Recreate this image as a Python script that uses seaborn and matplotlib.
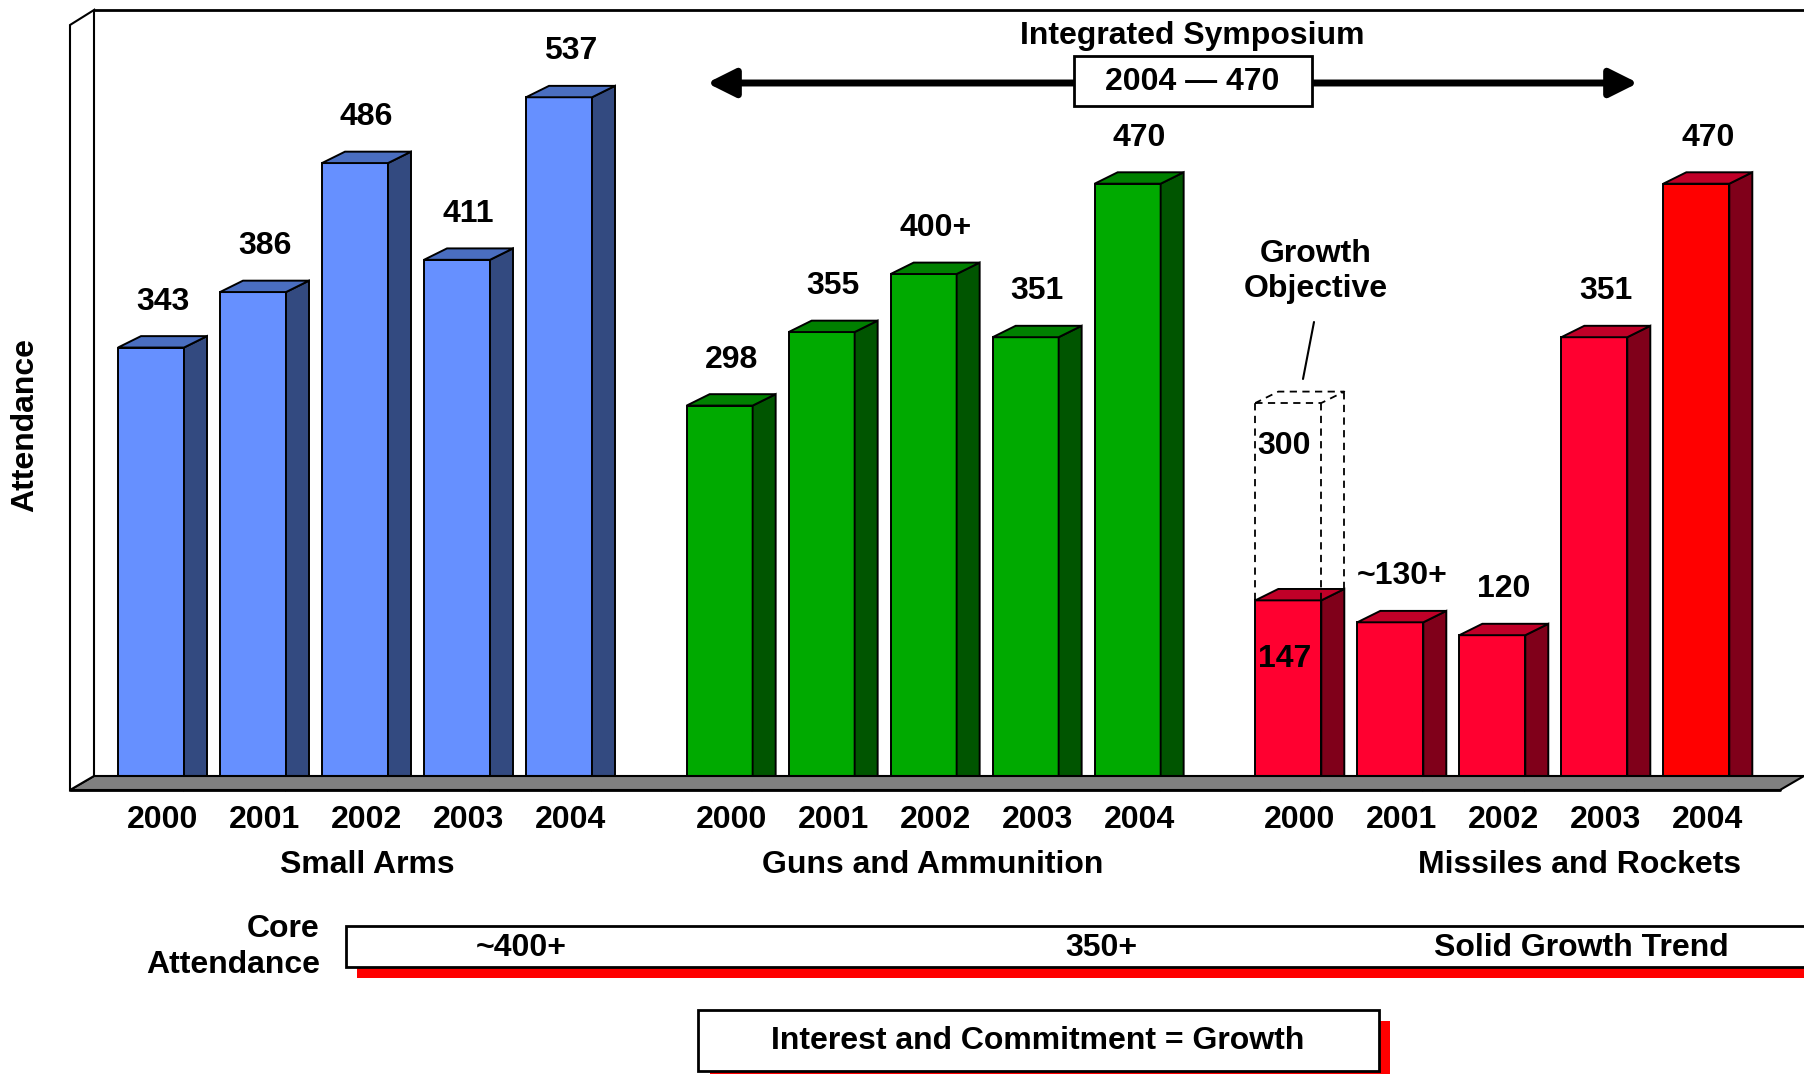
import numpy as np
import pandas as pd
import matplotlib
matplotlib.use("Agg")
import matplotlib.pyplot as plt
import matplotlib.transforms as mtransforms
from matplotlib.patches import Polygon, Rectangle, FancyArrowPatch, ArrowStyle
from matplotlib.lines import Line2D
import seaborn as sns

# ---------------- data ----------------
groups = ["Small Arms", "Guns and Ammunition", "Missiles and Rockets"]
years = ["2000", "2001", "2002", "2003", "2004"]
small_arms = [343, 386, 486, 411, 537]
guns_ammo = [298, 355, 400, 351, 470]
missiles_rockets = [147, 130, 120, 351, 470]
small_arms_labels = ["343", "386", "486", "411", "537"]
guns_ammo_labels = ["298", "355", "400+", "351", "470"]
missiles_rockets_labels = ["147", "~130+", "120", "351", "470"]
growth_objective = 300          # target for Missiles and Rockets 2000
growth_objective_label = "300"
symposium_title = "Integrated Symposium"
symposium_label = "2004 \u2014 470"
core_attendance = ["~400+", "350+", "Solid Growth Trend"]
footer = "Interest and Commitment = Growth"

# ---------------- style ----------------
sns.set_theme(style="white")
plt.rcParams["font.family"] = ["Liberation Sans", "DejaVu Sans"]
FS = 23
TXT = dict(fontsize=FS, fontweight="bold", color="black")

front_col = {"Small Arms": "#6690FF", "Guns and Ammunition": "#00AA00", "Missiles and Rockets": "#FF0030"}
side_col = {"Small Arms": "#334A80", "Guns and Ammunition": "#005500", "Missiles and Rockets": "#80001A"}
top_col = {"Small Arms": "#4A6EC0", "Guns and Ammunition": "#008000", "Missiles and Rockets": "#C00028"}
last_red_front = "#FF0000"

W, H = 1804, 1074
fig = plt.figure(figsize=(W / 100, H / 100), dpi=100)
ax = fig.add_axes([0, 0, 1, 1])

# layout (pixel geometry of the axes scale)
PX0, PX_SLOT, BASE_PY, PX_UNIT = 151.0, 102.0, 790.0, 1.29
group_start = [0.0, 5.575, 11.15]
DEPTH_PX = (23.0, 11.4)
ddx, ddy = DEPTH_PX[0] / PX_SLOT, DEPTH_PX[1] / PX_UNIT


def F(px, py):
    return (px / W, 1 - py / H)


# ---------------- table ----------------
rows = []
for gi, (g, vals, labs) in enumerate(zip(groups, [small_arms, guns_ammo, missiles_rockets],
                                         [small_arms_labels, guns_ammo_labels, missiles_rockets_labels])):
    for i, (y, v, l) in enumerate(zip(years, vals, labs)):
        rows.append(dict(group=g, year=y, value=v, label=l, pos=group_start[gi] + i,
                         bar_id=f"{g}-{y}"))
df = pd.DataFrame(rows)
palette = {r.bar_id: front_col[r.group] for r in df.itertuples()}
palette[df.bar_id.iloc[-1]] = last_red_front

# ---------------- floor & walls (drawn behind) ----------------
floor = Polygon([F(70, 790), F(1780, 790), F(1804, 776), F(94, 776)], closed=True,
                facecolor="#808080", edgecolor="black", lw=1.5, transform=fig.transFigure, zorder=1)
fig.add_artist(floor)
fig.add_artist(Line2D([70 / W, 1780 / W], [1 - 790 / H] * 2, color="black", lw=2,
                      transform=fig.transFigure, zorder=1.1))
lwall = Polygon([F(70, 25), F(94, 10), F(94, 776), F(70, 790)], closed=True,
                facecolor="white", edgecolor="black", lw=1.5, transform=fig.transFigure, zorder=1)
fig.add_artist(lwall)
fig.add_artist(Line2D([94 / W, 1 + 0.01], [1 - 10 / H] * 2, color="black", lw=2,
                      transform=fig.transFigure, zorder=1))

# ---------------- bars ----------------
sns.barplot(data=df, x="pos", y="value", hue="bar_id", hue_order=list(df.bar_id), palette=palette,
            native_scale=True, dodge=False, width=66 / PX_SLOT, errorbar=None, legend=False,
            saturation=1, edgecolor="black", linewidth=1.4, ax=ax, zorder=3)

ax.set_xlim(-PX0 / PX_SLOT, (W - PX0) / PX_SLOT)
ax.set_ylim((BASE_PY - H) / PX_UNIT, BASE_PY / PX_UNIT)
ax.axis("off")

bars = sorted([p for p in ax.patches if isinstance(p, Rectangle) and p.get_height() > 0],
              key=lambda p: p.get_x())
year_tf = mtransforms.blended_transform_factory(ax.transData, fig.transFigure)

for p, r in zip(bars, df.sort_values("pos").itertuples()):
    x0, w, h = p.get_x(), p.get_width(), p.get_height()
    x1 = x0 + w
    side = Polygon([(x1, 0), (x1 + ddx, ddy), (x1 + ddx, h + ddy), (x1, h)], closed=True,
                   facecolor=side_col[r.group], edgecolor="black", lw=1.4, zorder=3)
    top = Polygon([(x0, h), (x0 + ddx, h + ddy), (x1 + ddx, h + ddy), (x1, h)], closed=True,
                  facecolor=top_col[r.group], edgecolor="black", lw=1.4, zorder=3)
    ax.add_patch(side)
    ax.add_patch(top)
    xc = x0 + w / 2
    if r.group == groups[2] and r.year == years[0]:
        # label written inside the bar, under the growth-objective outline
        ax.text(xc - 0.04, h * 0.69, r.label, ha="center", va="center", zorder=6, **TXT)
        # dashed growth objective box
        g = growth_objective
        dash = dict(color="black", lw=1.3, ls=(0, (4, 3)), zorder=5)
        ax.plot([x0, x0], [h, g], **dash)
        ax.plot([x1, x1], [h, g], **dash)
        ax.plot([x1 + ddx, x1 + ddx], [h + ddy, g + ddy], **dash)
        ax.plot([x0, x1, x1 + ddx, x0 + ddx, x0], [g, g, g + ddy, g + ddy, g], **dash)
        ax.text(xc - 0.04, g * 0.89, growth_objective_label, ha="center", va="center", zorder=6, **TXT)
    else:
        ax.annotate(r.label, (xc + ddx / 2, h), xytext=(0, 33), textcoords="offset points",
                    ha="center", va="center", zorder=6, **TXT)
    ax.text(xc + ddx / 2, 1 - 819.5 / H, r.year, transform=year_tf, ha="center", va="center", **TXT)

# group names
for name, px in zip(groups, [367, 933, 1580]):
    fig.text(px / W, 1 - 865 / H, name, ha="center", va="center", **TXT)

# y-axis title
fig.text(25 / W, 1 - 425 / H, "Attendance", rotation=90, ha="center", va="center", **TXT)

# ---------------- Integrated Symposium annotation ----------------
fig.text(1192 / W, 1 - 36 / H, symposium_title, ha="center", va="center", **TXT)
arrow = FancyArrowPatch(F(707, 83), F(1638, 83), transform=fig.transFigure,
                        arrowstyle=ArrowStyle("<|-|>", head_length=1.7, head_width=0.85),
                        mutation_scale=10, lw=5, color="black", shrinkA=0, shrinkB=0, zorder=4)
fig.add_artist(arrow)
fig.add_artist(Rectangle(F(1074, 106), (1312 - 1074) / W, 50 / H, transform=fig.transFigure,
                         facecolor="white", edgecolor="black", lw=2, zorder=5))
fig.text(1192 / W, 1 - 82 / H, symposium_label, ha="center", va="center", zorder=6, **TXT)

# growth objective callout
fig.text(1316 / W, 1 - 271.5 / H, "Growth\nObjective", ha="center", va="center",
         multialignment="center", linespacing=1.2, **TXT)
fig.add_artist(Line2D([1314 / W, 1303 / W], [1 - 322 / H, 1 - 379 / H], color="black", lw=1.5,
                      transform=fig.transFigure, zorder=5))

# ---------------- core attendance band ----------------
fig.text(320 / W, 1 - 947 / H, "Core\nAttendance", ha="right", va="center",
         multialignment="right", linespacing=1.22, **TXT)
fig.add_artist(Rectangle(F(357, 978), 1.0, 40 / H, transform=fig.transFigure,
                         facecolor="#FF0000", edgecolor="none", zorder=4))
fig.add_artist(Rectangle(F(346, 967), 1.0, 41 / H, transform=fig.transFigure,
                         facecolor="white", edgecolor="black", lw=2, zorder=5))
for txt, px in zip(core_attendance, [521.5, 1101.5, 1581]):
    fig.text(px / W, 1 - 948 / H, txt, ha="center", va="center", zorder=6, **TXT)

# ---------------- footer box ----------------
fig.add_artist(Rectangle(F(710, 1080), (1390 - 710) / W, 59 / H, transform=fig.transFigure,
                         facecolor="#FF0000", edgecolor="none", zorder=4))
fig.add_artist(Rectangle(F(698, 1071), (1379 - 698) / W, 61 / H, transform=fig.transFigure,
                         facecolor="white", edgecolor="black", lw=2, zorder=5))
fig.text(1038 / W, 1 - 1041 / H, footer, ha="center", va="center", zorder=6, **TXT)

fig.savefig("out.png", dpi=100, facecolor="white")
